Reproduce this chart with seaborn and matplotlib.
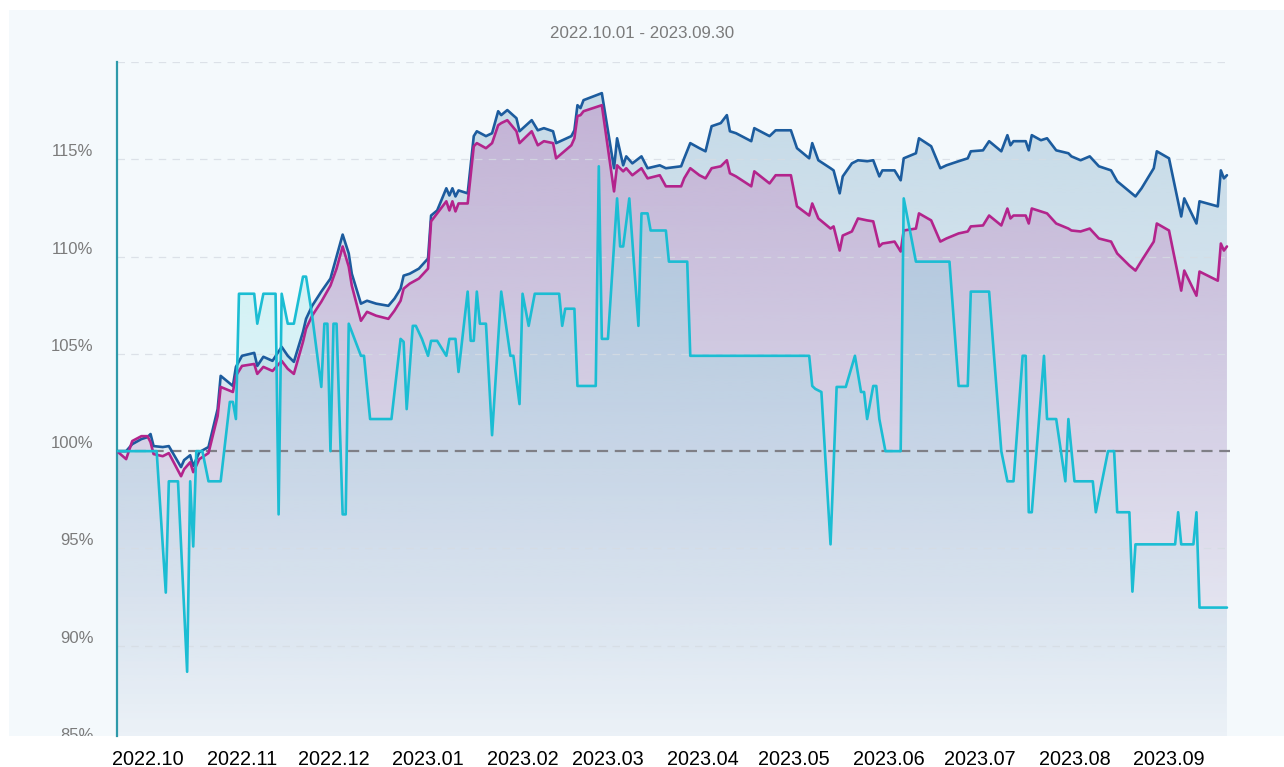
import numpy as np
import pandas as pd
import matplotlib
matplotlib.use("Agg")
import matplotlib.pyplot as plt
import matplotlib.dates as mdates
import seaborn as sns
from matplotlib.patches import Rectangle, Polygon
from matplotlib.transforms import Bbox, TransformedBbox, blended_transform_factory, ScaledTranslation

# ---------------- data ----------------
TITLE = "2022.10.01 - 2023.09.30"
START = "2022-10-01"
month_labels = ["2022.10", "2022.11", "2022.12", "2023.01", "2023.02", "2023.03",
                "2023.04", "2023.05", "2023.06", "2023.07", "2023.08", "2023.09"]
y_ticks = [85, 90, 95, 100, 105, 110, 115]

bm_days = [0, 3, 5, 8, 10, 11, 12, 15, 17, 21,
           22, 24, 25, 27, 30, 33, 34, 38, 39, 41,
           45, 46, 48, 51, 54, 56, 58, 61, 62, 64,
           67, 70, 72, 74, 76, 77, 80, 82, 85, 89,
           91, 93, 94, 96, 99, 102, 103, 105, 108, 109,
           110, 111, 112, 115, 117, 118, 121, 123, 125, 126,
           128, 131, 132, 136, 138, 140, 143, 144, 149, 150,
           151, 152, 153, 159, 163, 164, 166, 167, 169, 172,
           174, 178, 180, 185, 186, 188, 191, 193, 195, 198,
           200, 201, 203, 208, 209, 214, 216, 221, 223, 227,
           228, 230, 234, 235, 237, 238, 241, 243, 246, 248,
           250, 251, 255, 257, 258, 262, 263, 267, 270, 272,
           276, 279, 280, 284, 286, 290, 292, 293, 294, 298,
           299, 300, 303, 305, 308, 312, 313, 316, 319, 322,
           326, 328, 332, 334, 336, 340, 341, 345, 349, 350,
           354, 355, 361, 362, 363, 364]

blue_vals = [100.00, 100.00, 100.36, 100.62, 100.72, 100.88, 100.26, 100.21, 100.26, 99.18,
             99.54, 99.79, 99.23, 99.95, 100.21, 102.16, 103.87, 103.35, 104.33, 104.90,
             105.05, 104.38, 104.85, 104.64, 105.36, 104.90, 104.59, 106.13, 106.80, 107.47,
             108.20, 108.87, 110.00, 111.13, 110.16, 109.12, 107.58, 107.73, 107.58, 107.47,
             107.84, 108.35, 109.02, 109.12, 109.38, 109.90, 112.11, 112.37, 113.51, 113.14,
             113.51, 113.09, 113.40, 113.25, 116.19, 116.44, 116.19, 116.34, 117.47, 117.27,
             117.53, 117.11, 116.44, 117.01, 116.49, 116.60, 116.44, 115.83, 116.19, 116.49,
             117.78, 117.63, 118.04, 118.40, 114.54, 116.08, 114.69, 115.15, 114.79, 115.15,
             114.54, 114.69, 114.54, 114.64, 115.05, 115.83, 115.57, 115.41, 116.70, 116.86,
             117.27, 116.44, 116.34, 115.93, 116.60, 116.19, 116.49, 116.49, 115.57, 115.05,
             115.83, 114.95, 114.54, 114.43, 113.25, 114.12, 114.79, 114.95, 114.90, 114.95,
             114.12, 114.43, 114.43, 113.92, 115.05, 115.31, 116.08, 115.67, 114.54, 114.69,
             114.90, 115.05, 115.41, 115.46, 115.93, 115.41, 116.24, 115.72, 115.93, 115.93,
             115.46, 116.24, 115.98, 116.08, 115.46, 115.31, 115.15, 114.95, 115.15, 114.64,
             114.43, 113.87, 113.35, 113.09, 113.51, 114.54, 115.41, 115.05, 112.06, 112.99,
             111.70, 112.84, 112.58, 114.43, 114.02, 114.18]

magenta_vals = [100.00, 99.59, 100.52, 100.77, 100.77, 100.46, 99.85, 99.74, 99.90, 98.71,
                99.07, 99.43, 98.92, 99.59, 99.90, 101.80, 103.30, 103.04, 103.87, 104.38,
                104.48, 103.97, 104.33, 104.12, 104.64, 104.23, 103.97, 105.62, 106.29, 106.96,
                107.68, 108.51, 109.38, 110.52, 109.48, 108.51, 106.70, 107.16, 106.96, 106.80,
                107.22, 107.73, 108.35, 108.61, 108.87, 109.38, 111.81, 112.22, 112.84, 112.37,
                112.84, 112.32, 112.73, 112.73, 115.67, 115.83, 115.57, 115.83, 116.75, 116.86,
                117.01, 116.44, 115.83, 116.44, 115.72, 115.93, 115.83, 115.05, 115.72, 116.08,
                117.22, 117.27, 117.47, 117.78, 113.35, 114.69, 114.38, 114.54, 114.18, 114.54,
                114.02, 114.18, 113.61, 113.61, 114.02, 114.54, 114.18, 114.02, 114.54, 114.64,
                114.95, 114.28, 114.12, 113.61, 114.38, 113.76, 114.18, 114.18, 112.58, 112.11,
                112.73, 111.96, 111.44, 111.55, 110.31, 111.08, 111.29, 111.96, 111.86, 111.81,
                110.52, 110.67, 110.77, 110.26, 111.34, 111.44, 112.22, 111.86, 110.77, 110.93,
                111.19, 111.29, 111.55, 111.60, 112.11, 111.60, 112.47, 111.96, 112.11, 112.11,
                111.70, 112.47, 112.32, 112.22, 111.70, 111.44, 111.34, 111.29, 111.44, 110.93,
                110.77, 110.16, 109.54, 109.28, 109.79, 110.77, 111.70, 111.34, 108.25, 109.28,
                107.99, 109.23, 108.76, 110.67, 110.31, 110.52]

cyan_days = [0, 13, 16, 17, 20, 23, 24, 25, 26, 28,
             30, 34, 37, 38, 39, 40, 45, 46, 48, 52,
             53, 54, 56, 58, 61, 62, 64, 67, 68, 69,
             70, 71, 72, 74, 75, 76, 80, 81, 83, 90,
             93, 94, 95, 97, 98, 100, 102, 103, 105, 108,
             109, 111, 112, 115, 116, 117, 118, 119, 121, 123,
             126, 129, 130, 132, 133, 135, 137, 145, 146, 147,
             150, 151, 157, 158, 159, 161, 164, 165, 166, 168,
             171, 172, 174, 175, 180, 181, 187, 188, 227, 228,
             229, 231, 234, 236, 239, 242, 244, 245, 246, 248,
             249, 250, 252, 257, 258, 262, 273, 276, 279, 280,
             286, 290, 292, 294, 297, 298, 299, 300, 304, 305,
             308, 311, 312, 314, 320, 321, 325, 327, 328, 332,
             333, 334, 347, 348, 349, 353, 354, 355, 364]

cyan_vals = [100.0, 100.0, 92.73, 98.45, 98.45, 88.66, 98.45, 95.10, 100.0, 100.0,
             98.45, 98.45, 102.53, 102.53, 101.65, 108.09, 108.09, 106.55, 108.09, 108.09,
             96.75, 108.09, 106.55, 106.55, 108.97, 108.97, 106.96, 103.30, 106.55, 106.55,
             100.0, 106.55, 106.55, 96.75, 96.75, 106.55, 104.90, 104.90, 101.65, 101.65,
             105.77, 105.62, 102.16, 106.44, 106.44, 105.77, 104.90, 105.67, 105.67, 104.90,
             105.77, 105.77, 104.07, 108.20, 105.67, 105.67, 108.20, 106.55, 106.55, 100.82,
             108.20, 104.90, 104.90, 102.42, 108.09, 106.44, 108.09, 108.09, 106.44, 107.32,
             107.32, 103.35, 103.35, 114.64, 105.77, 105.77, 112.99, 110.52, 110.52, 112.99,
             106.44, 112.22, 112.22, 111.34, 111.34, 109.74, 109.74, 104.90, 104.90, 103.35,
             103.20, 103.04, 95.21, 103.30, 103.30, 104.90, 103.04, 103.04, 101.65, 103.35,
             103.35, 101.65, 100.0, 100.0, 112.99, 109.74, 109.74, 103.35, 103.35, 108.20,
             108.20, 100.0, 98.45, 98.45, 104.90, 104.90, 96.86, 96.86, 104.90, 101.65,
             101.65, 98.45, 101.65, 98.45, 98.45, 96.86, 100.0, 100.0, 96.86, 96.86,
             92.78, 95.21, 95.21, 96.86, 95.21, 95.21, 96.86, 91.96, 91.96]

# ---------------- style ----------------
BLUE = "#1c5c9e"
MAGENTA = "#b3248c"
CYAN = "#1bbdd3"
BG = "#f4f9fc"
W, H = 1284, 767
YMIN, YMAX = 85.36, 120.0

sns.set_theme(style="white")
plt.rcParams["font.family"] = ["Liberation Sans", "DejaVu Sans"]

fig = plt.figure(figsize=(W / 100, H / 100), dpi=100, facecolor="white")


def fx(px):
    return px / W


def fy(py):
    return 1 - py / H


fig.patches.append(Rectangle((fx(9), fy(736)), 1 - fx(9), fy(10) - fy(736),
                             transform=fig.transFigure, facecolor=BG,
                             edgecolor="none", zorder=-10))

ax = fig.add_axes([fx(117), fy(736), fx(1230) - fx(117), fy(62) - fy(736)])
ax.set_facecolor("none")
ax.set_zorder(1)

start = pd.Timestamp(START)
bm_x = mdates.date2num(start + pd.to_timedelta(bm_days, unit="D"))
cy_x = mdates.date2num(start + pd.to_timedelta(cyan_days, unit="D"))
x0 = mdates.date2num(start)
x1 = mdates.date2num(start + pd.Timedelta(days=365))


def gradient_fill(x, y, color, a_top, a_bot, zorder):
    verts = [(x[0], YMIN)] + list(zip(x, y)) + [(x[-1], YMIN)]
    poly = Polygon(verts, closed=True, facecolor="none", edgecolor="none")
    ax.add_patch(poly)
    rgb = matplotlib.colors.to_rgb(color)
    n = 256
    grad = np.zeros((n, 1, 4))
    grad[:, 0, :3] = rgb
    grad[:, 0, 3] = np.linspace(a_top, a_bot, n)
    im = ax.imshow(grad, aspect="auto", extent=[x[0], x[-1], YMIN, YMAX],
                   origin="upper", zorder=zorder, interpolation="bilinear")
    im.set_clip_path(poly)


gradient_fill(bm_x, blue_vals, "#85afcb", 0.44, 0.03, 1.1)
gradient_fill(bm_x, magenta_vals, "#c074b9", 0.40, 0.03, 1.2)
gradient_fill(cy_x, cyan_vals, "#86e0e6", 0.42, 0.03, 1.3)

# grid lines
for v in [85, 90, 95, 105, 110, 115, 120]:
    ax.axhline(v, color="#d6dce3", lw=0.9, ls=(0, (6, 5)), alpha=0.8, zorder=1.5)
ax.axhline(100, color="#7f7f86", lw=1.6, ls=(0, (5, 3)), zorder=2)

sns.lineplot(x=bm_x, y=blue_vals, ax=ax, color=BLUE, lw=1.9, estimator=None,
             sort=False, zorder=5)
sns.lineplot(x=bm_x, y=magenta_vals, ax=ax, color=MAGENTA, lw=1.9, estimator=None,
             sort=False, zorder=6)
sns.lineplot(x=cy_x, y=cyan_vals, ax=ax, color=CYAN, lw=1.9, estimator=None,
             sort=False, zorder=7)
for ln in ax.get_lines():
    ln.set_solid_joinstyle("round")

ax.set_xlim(x0, x1)
ax.set_ylim(YMIN, YMAX)

# spines
for s in ["top", "right", "bottom"]:
    ax.spines[s].set_visible(False)
ax.spines["left"].set_color("#2e9aaa")
ax.spines["left"].set_linewidth(1.6)

# x tick labels
month_starts = pd.date_range(START, periods=12, freq="MS")
ax.set_xticks(mdates.date2num(month_starts + pd.Timedelta(days=10)))
ax.set_xticklabels(month_labels, fontsize=14.3, color="black")
ax.tick_params(axis="x", length=0, pad=10)

# y tick labels as text sitting just above the grid lines
ax.set_yticks([])
ytrans = blended_transform_factory(ax.transAxes, ax.transData) + \
    ScaledTranslation(-17 / 72, 2.2 / 72, fig.dpi_scale_trans)
clipbox = TransformedBbox(Bbox([[0, fy(736)], [1, 1]]), fig.transFigure)
for v in y_ticks:
    t = ax.text(0, v, f"{v}%", transform=ytrans, ha="right", va="baseline",
                fontsize=12, color="#7b7b7b", clip_on=True)
    t.set_clip_box(clipbox)

ax.set_xlabel("")
ax.set_ylabel("")

fig.text(0.5, fy(33), TITLE, ha="center", va="center", color="#7b7b7b", fontsize=12.2)

fig.savefig("out.png", dpi=100, facecolor="white")
